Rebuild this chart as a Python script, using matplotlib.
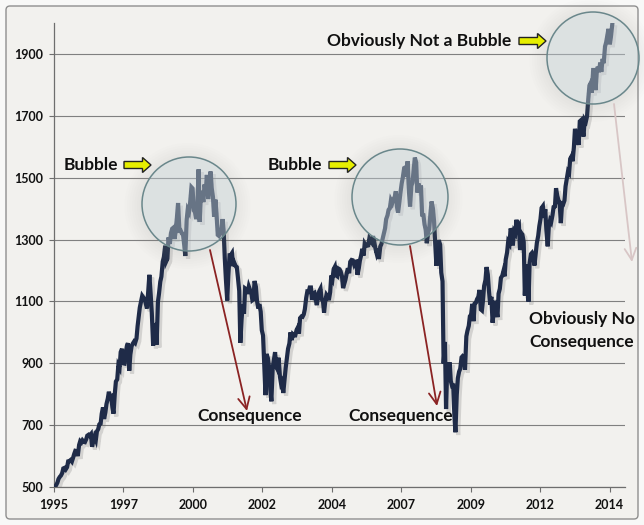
import numpy as np
import pandas as pd
import matplotlib
matplotlib.use("Agg")
import matplotlib.pyplot as plt
import matplotlib.patheffects as pe
from matplotlib.patches import Circle, FancyArrow, FancyArrowPatch, FancyBboxPatch

spx_1995 = [485, 491, 501, 506, 514, 526, 533, 537, 545, 560, 562, 557, 564, 583, 584, 587, 582, 593, 607, 617]
spx_1996 = [616, 600, 636, 648, 644, 651, 646, 645, 654, 666, 669, 666, 671, 630, 650, 663, 652, 680, 687, 702, 705, 737, 757, 720]
spx_1997 = [741, 768, 786, 808, 791, 793, 757, 737, 801, 841, 848, 893, 885, 936, 947, 900, 899, 925, 955, 965, 876, 928, 955, 963]
spx_1998 = [970, 966, 980, 1020, 1049, 1080, 1101, 1118, 1112, 1108, 1091, 1077, 1134, 1186, 1121, 1062, 957, 1029, 1017, 960, 1099, 1126, 1164, 1180]
spx_1999 = [1229, 1243, 1280, 1230, 1238, 1307, 1286, 1320, 1335, 1338, 1302, 1330, 1373, 1418, 1329, 1330, 1320, 1318, 1283, 1247, 1363, 1397, 1389, 1418]
spx_2000 = [1469, 1465, 1394, 1389, 1366, 1392, 1527, 1357, 1452, 1452, 1421, 1478, 1455, 1509, 1431, 1484, 1520, 1466, 1437, 1374, 1429, 1383, 1315, 1312]
spx_2001 = [1320, 1326, 1366, 1326, 1240, 1173, 1103, 1183, 1249, 1249, 1256, 1214, 1224, 1215, 1211, 1178, 1134, 966, 1041, 1089, 1060, 1142, 1139, 1124]
spx_2002 = [1148, 1138, 1130, 1104, 1107, 1166, 1147, 1102, 1077, 1091, 1067, 1007, 990, 900, 797, 930, 916, 889, 815, 777, 886, 909, 936, 889]
spx_2003 = [880, 918, 856, 834, 841, 804, 848, 885, 917, 947, 964, 1000, 975, 994, 990, 990, 1008, 1015, 996, 1046, 1051, 1050, 1058, 1075]
spx_2004 = [1112, 1132, 1131, 1145, 1145, 1105, 1126, 1128, 1107, 1088, 1121, 1133, 1141, 1107, 1102, 1064, 1104, 1121, 1115, 1104, 1130, 1184, 1174, 1204]
spx_2005 = [1212, 1184, 1181, 1206, 1204, 1197, 1181, 1143, 1157, 1170, 1192, 1207, 1191, 1228, 1234, 1233, 1220, 1228, 1229, 1186, 1207, 1232, 1249, 1270]
spx_2006 = [1248, 1287, 1280, 1280, 1281, 1303, 1295, 1290, 1311, 1294, 1270, 1256, 1270, 1237, 1277, 1285, 1304, 1320, 1336, 1366, 1378, 1396, 1401, 1427]
spx_2007 = [1418, 1430, 1438, 1456, 1407, 1387, 1421, 1452, 1482, 1501, 1531, 1533, 1503, 1553, 1455, 1407, 1474, 1484, 1527, 1565, 1549, 1452, 1481, 1467]
spx_2008 = [1468, 1380, 1379, 1349, 1331, 1288, 1323, 1334, 1386, 1423, 1400, 1360, 1280, 1215, 1267, 1298, 1283, 1193, 1165, 899, 969, 752, 896, 880]
spx_2009 = [903, 843, 826, 827, 735, 677, 798, 852, 873, 882, 919, 923, 919, 879, 987, 1005, 1021, 1052, 1057, 1092, 1036, 1093, 1096, 1107]
spx_2010 = [1115, 1137, 1074, 1071, 1104, 1150, 1169, 1211, 1187, 1136, 1089, 1115, 1031, 1065, 1102, 1080, 1049, 1125, 1141, 1176, 1183, 1197, 1181, 1235]
spx_2011 = [1258, 1293, 1286, 1336, 1327, 1281, 1326, 1320, 1364, 1338, 1345, 1266, 1321, 1316, 1292, 1119, 1219, 1209, 1099, 1224, 1253, 1257, 1247, 1216]
spx_2012 = [1258, 1289, 1312, 1343, 1366, 1402, 1408, 1370, 1398, 1330, 1278, 1342, 1362, 1356, 1379, 1405, 1407, 1466, 1441, 1428, 1412, 1353, 1416, 1414]
spx_2013 = [1426, 1472, 1498, 1520, 1515, 1561, 1569, 1553, 1598, 1658, 1631, 1626, 1606, 1682, 1686, 1662, 1633, 1688, 1682, 1698, 1757, 1798, 1806, 1775]
spx_2014 = [1848, 1848, 1783, 1838, 1859, 1841, 1872, 1842, 1884, 1870, 1924, 1937, 1960, 1981, 1931, 1955, 1995]

x_labels = ["1995", "1997", "2000", "2002", "2004", "2007", "2009", "2012", "2014"]
y_ticks = [500, 700, 900, 1100, 1300, 1500, 1700, 1900]

spx = (spx_1995 + spx_1996 + spx_1997 + spx_1998 + spx_1999 + spx_2000 + spx_2001
       + spx_2002 + spx_2003 + spx_2004 + spx_2005 + spx_2006 + spx_2007 + spx_2008
       + spx_2009 + spx_2010 + spx_2011 + spx_2012 + spx_2013 + spx_2014)
dates = pd.date_range("1995-03-01", "2014-09-01", freq="SMS")
assert len(dates) == len(spx), (len(dates), len(spx))
t = dates.year + (dates.dayofyear - 1) / 365.25

W, H = 644, 525
plt.rcParams["font.family"] = ["Lato", "DejaVu Sans"]
fig = plt.figure(figsize=(W / 100, H / 100), dpi=100, facecolor="#f8f8f7")


def inch(x, y):
    # image pixel (top-left origin) -> figure inches
    return x / 100, (H - y) / 100


# outer rounded frame
x0, y0 = inch(6, 519)
fig.add_artist(FancyBboxPatch((x0, y0), 6.32, 5.13, boxstyle="round,pad=0,rounding_size=0.04",
                              transform=fig.dpi_scale_trans, fc="#f2f1ee", ec="#8f8f8f", lw=1.0, zorder=-1))

ax = fig.add_axes([54 / W, (H - 487) / H, 571 / W, (487 - 23) / H])
ax.set_facecolor("none")

ax.plot(t, spx, color="#1f2b48", lw=3.0, solid_joinstyle="miter", zorder=3,
        path_effects=[pe.SimpleLineShadow(offset=(2, -2), shadow_color="#666666", alpha=0.22),
                      pe.Normal()])

x_start, x_step = 1995.21, 2.42
ax.set_xlim(x_start, 2015.11)
ax.set_ylim(500, 2000)
ax.set_xticks([x_start + i * x_step for i in range(len(x_labels))])
ax.set_xticklabels(x_labels)
ax.set_yticks(y_ticks)
ax.yaxis.grid(True, color="#808080", lw=0.8)
ax.set_axisbelow(True)
for s in ["top", "right"]:
    ax.spines[s].set_visible(False)
for s in ["left", "bottom"]:
    ax.spines[s].set_color("#6e6e6e")
    ax.spines[s].set_linewidth(0.9)
ax.tick_params(axis="both", direction="out", length=3.6, width=0.8, color="#6e6e6e",
               labelsize=9, labelcolor="#111111")
ax.tick_params(axis="y", pad=4)
ax.tick_params(axis="x", pad=5)
for lab in ax.get_xticklabels() + ax.get_yticklabels():
    lab.set_fontweight("bold")

# magnifier circles with soft glow
for cx, cy, r in [(189, 204, 47), (400, 197, 48), (593, 58, 46)]:
    c = inch(cx, cy)
    for k in range(7):
        fig.add_artist(Circle((c[0] - 0.015, c[1] - 0.02), (r + 1 + k * 2.5) / 100,
                              transform=fig.dpi_scale_trans, fc="#a0a0a0", ec="none",
                              alpha=0.02, zorder=4))
    fig.add_artist(Circle(c, r / 100, transform=fig.dpi_scale_trans, fc="#cfdee5",
                          ec="none", alpha=0.36, zorder=5))
    fig.add_artist(Circle(c, r / 100, transform=fig.dpi_scale_trans, fc="none",
                          ec="#6a878b", lw=1.1, zorder=6))

# consequence arrows
for (xa, ya), (xb, yb), col in [((210, 250), (247, 411), "#8b2323"),
                                ((410, 246), (437, 406), "#8b2323"),
                                ((614, 104), (632, 262), "#d8c6c6")]:
    fig.add_artist(FancyArrowPatch(inch(xa, ya), inch(xb, yb), transform=fig.dpi_scale_trans,
                                   arrowstyle="->,head_length=0.7,head_width=0.35", mutation_scale=12,
                                   color=col, lw=1.3, shrinkA=0, shrinkB=0, zorder=7))

# yellow pointer arrows
for xa, xb, yy in [(124, 151, 165), (329, 356, 165), (519, 546, 41)]:
    a = inch(xa, yy)
    fig.add_artist(FancyArrow(a[0], a[1], (xb - xa) / 100, 0, width=0.07, head_width=0.15,
                              head_length=0.085, length_includes_head=True,
                              transform=fig.dpi_scale_trans, fc="#e6ee00", ec="#222222",
                              lw=1.0, zorder=8))

txt = dict(fontsize=12.5, fontweight="bold", color="#111111", va="center", ha="left", zorder=9)
fig.text(64 / W, 1 - 165 / H, "Bubble", **txt)
fig.text(268 / W, 1 - 165 / H, "Bubble", **txt)
fig.text(327 / W, 1 - 41 / H, "Obviously Not a Bubble", **txt)
fig.text(197 / W, 1 - 416 / H, "Consequence", **txt)
fig.text(348 / W, 1 - 416 / H, "Consequence", **txt)
fig.text(529 / W, 1 - 319 / H, "Obviously No", **txt)
fig.text(529 / W, 1 - 342 / H, "Consequence", **txt)

fig.savefig("out.png", dpi=100, facecolor=fig.get_facecolor())
